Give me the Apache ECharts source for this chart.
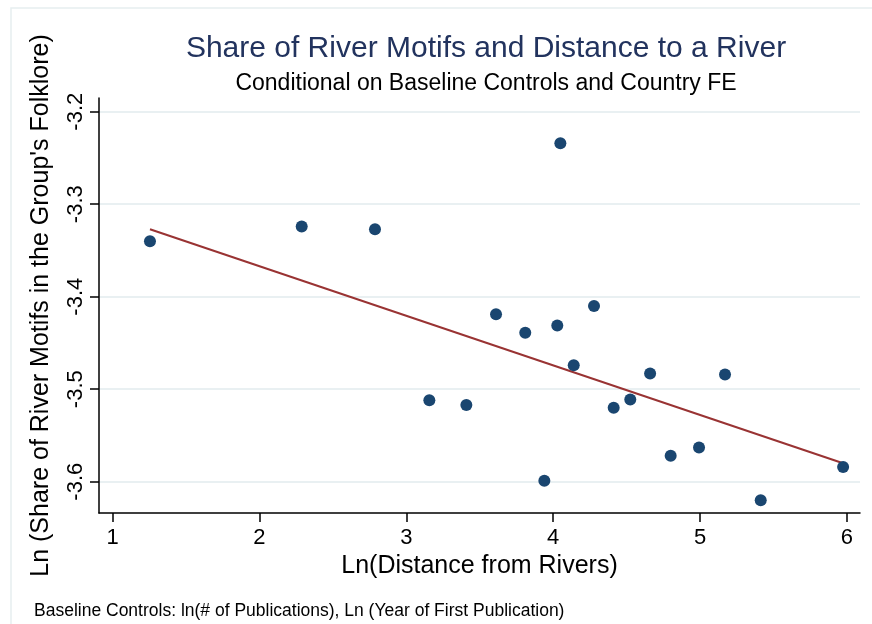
<!DOCTYPE html>
<html>
<head>
<meta charset="utf-8">
<script src="https://cdn.jsdelivr.net/npm/echarts@6/dist/echarts.min.js"></script>
<style>
  html, body { margin: 0; padding: 0; background: #fff; }
  #chart { width: 872px; height: 624px; }
</style>
</head>
<body>
<div id="chart"></div>
<script>
  // ln(distance from rivers)
  var distLn = [1.255, 2.288, 2.787, 4.049, 3.611, 3.810, 4.028, 4.278, 4.140, 3.157,
                3.409, 4.412, 4.525, 4.660, 5.170, 4.800, 4.993, 3.940, 5.413, 5.974];
  // ln(share of river motifs), conditional
  var shareLn = [-3.340, -3.324, -3.327, -3.234, -3.419, -3.439, -3.431, -3.410, -3.474, -3.512,
                 -3.517, -3.520, -3.511, -3.483, -3.484, -3.572, -3.563, -3.599, -3.620, -3.584];
  // fitted line end points
  var fitX = [1.255, 5.974];
  var fitY = [-3.327, -3.580];
  var xTicks = [1, 2, 3, 4, 5, 6];
  var yTicks = [-3.6, -3.5, -3.4, -3.3, -3.2];

  var font = 'Liberation Sans, Arial, sans-serif';
  var points = distLn.map(function (x, i) { return [x, shareLn[i]]; });
  var fit = fitX.map(function (x, i) { return [x, fitY[i]]; });

  var chart = echarts.init(document.getElementById('chart'));
  var option = {
    backgroundColor: '#fff',
    animation: false,
    textStyle: { fontFamily: font },
    title: [
      {
        text: 'Share of River Motifs and Distance to a River',
        left: 481, top: 29, textAlign: 'center',
        textStyle: { color: '#22335e', fontSize: 30, fontWeight: 'normal', fontFamily: font }
      },
      {
        text: 'Conditional on Baseline Controls and Country FE',
        left: 481, top: 67, textAlign: 'center',
        textStyle: { color: '#000', fontSize: 23, fontWeight: 'normal', fontFamily: font }
      },
      {
        text: 'Baseline Controls: ln(# of Publications), Ln (Year of First Publication)',
        left: 29, top: 597,
        textStyle: { color: '#000', fontSize: 17.5, fontWeight: 'normal', fontFamily: font }
      }
    ],
    graphic: [
      {
        type: 'rect', silent: true, z: -1,
        shape: { x: 11, y: 8, width: 900, height: 700 },
        style: { fill: 'none', stroke: '#e6eef0', lineWidth: 1.5 }
      }
    ],
    grid: { left: 99, right: 12, top: 98, bottom: 111 },
    xAxis: {
      type: 'value',
      min: 0.908, max: 6.089,
      name: 'Ln(Distance from Rivers)',
      nameLocation: 'middle', nameGap: 38,
      nameTextStyle: { color: '#000', fontSize: 25, fontFamily: font },
      axisLine: { lineStyle: { color: '#000', width: 1.5 } },
      axisTick: { customValues: xTicks, length: 9, lineStyle: { color: '#000', width: 1.5 } },
      axisLabel: { customValues: xTicks, color: '#000', fontSize: 22, margin: 14, fontFamily: font },
      splitLine: { show: false }
    },
    yAxis: {
      type: 'value',
      min: -3.6338, max: -3.1852,
      name: "Ln (Share of River Motifs in the Group's Folklore)",
      nameLocation: 'middle', nameGap: 45, nameRotate: 90,
      nameTextStyle: { color: '#000', fontSize: 25, fontFamily: font },
      axisLine: { show: true, lineStyle: { color: '#000', width: 1.5 } },
      axisTick: { show: true, customValues: yTicks, length: 9, lineStyle: { color: '#000', width: 1.5 } },
      axisLabel: {
        customValues: yTicks, color: '#000', fontSize: 22, margin: 12, rotate: 90,
        fontFamily: font,
        formatter: function (v) { return v.toFixed(1); }
      },
      splitLine: { show: true, lineStyle: { color: '#e9f0f2', width: 2 } }
    },
    series: [
      {
        type: 'line',
        data: fit,
        symbol: 'none',
        lineStyle: { color: '#993333', width: 2 },
        z: 2
      },
      {
        type: 'scatter',
        data: points,
        symbol: 'circle',
        symbolSize: 12,
        itemStyle: { color: '#1a4670', opacity: 1 },
        z: 3
      }
    ]
  };
  chart.setOption(option);
</script>
</body>
</html>
